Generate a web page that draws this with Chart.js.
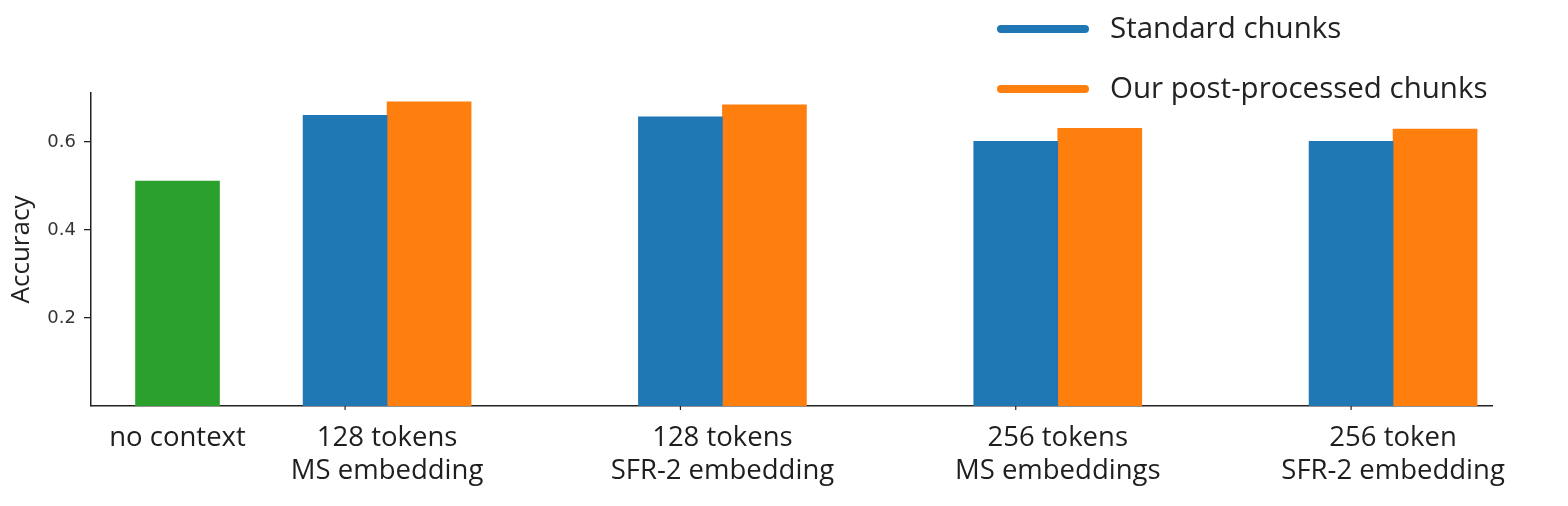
<!DOCTYPE html>
<html>
<head>
<meta charset="utf-8">
<script src="https://cdn.jsdelivr.net/npm/chart.js@4.4.0/dist/chart.umd.min.js"></script>
<style>
  html, body { margin: 0; padding: 0; background: #fff; }
  #wrap { width: 1568px; height: 506px; position: relative; }
</style>
</head>
<body>
<div id="wrap"><canvas id="accChart"></canvas></div>
<script>
// categories along the x axis (two-line labels) and where they sit on the axis
const categories = [
    ['no context'],
    ['128 tokens', 'MS embedding'],
    ['128 tokens', 'SFR-2 embedding'],
    ['256 tokens', 'MS embeddings'],
    ['256 token', 'SFR-2 embedding']
];
const catPositions = [0.375, 1, 2, 3, 4];

// accuracy per category, null where the series has no bar
const noContext      = [0.511, null, null, null, null];
const standardChunks = [null, 0.660, 0.657, 0.601, 0.601];
const postProcessed  = [null, 0.691, 0.684, 0.631, 0.629];

const yTicks = [0.2, 0.4, 0.6];

const toPoints = vals => catPositions.map((x, i) => ({ x: x, y: vals[i] }));

// legend drawn as thick lines stacked in the top right corner
const lineLegend = {
    id: 'lineLegend',
    afterDraw(chart, args, opts) {
        const ctx = chart.ctx;
        ctx.save();
        opts.items.forEach((idx, row) => {
            const ds = chart.data.datasets[idx];
            const y = opts.top + row * opts.rowGap;
            ctx.strokeStyle = ds.backgroundColor;
            ctx.lineWidth = 8;
            ctx.lineCap = 'round';
            ctx.beginPath();
            ctx.moveTo(opts.lineX0, y);
            ctx.lineTo(opts.lineX1, y);
            ctx.stroke();
            ctx.fillStyle = '#222';
            ctx.font = opts.font;
            ctx.textBaseline = 'middle';
            ctx.textAlign = 'left';
            ctx.fillText(ds.label, opts.textX, y + 1);
        });
        ctx.restore();
    }
};

// small tick marks under the blue bars, like the original axis
const barTicks = {
    id: 'barTicks',
    afterDatasetsDraw(chart) {
        const meta = chart.getDatasetMeta(1);
        const bottom = chart.chartArea.bottom;
        const ctx = chart.ctx;
        ctx.save();
        ctx.strokeStyle = '#222';
        ctx.lineWidth = 1.2;
        meta.data.forEach((el, i) => {
            if (standardChunks[i] === null) return;
            ctx.beginPath();
            ctx.moveTo(el.x, bottom);
            ctx.lineTo(el.x, bottom + 4);
            ctx.stroke();
        });
        ctx.restore();
    }
};

new Chart(document.getElementById('accChart'), {
    type: 'bar',
    data: {
        datasets: [
            { label: 'no context', data: toPoints(noContext), backgroundColor: '#2ca02c' },
            { label: 'Standard chunks', data: toPoints(standardChunks), backgroundColor: '#1f77b4' },
            { label: 'Our post-processed chunks', data: toPoints(postProcessed), backgroundColor: '#ff7f0e' }
        ]
    },
    plugins: [lineLegend, barTicks],
    options: {
        responsive: true,
        maintainAspectRatio: false,
        animation: false,
        datasets: {
            bar: { skipNull: true, barThickness: 84, borderWidth: 0 }
        },
        layout: { padding: { left: 0, right: 76, top: 93, bottom: 0 } },
        plugins: {
            legend: { display: false },
            tooltip: { enabled: false },
            lineLegend: {
                items: [1, 2],
                top: 29,
                rowGap: 60,
                lineX0: 1001,
                lineX1: 1085,
                textX: 1110,
                font: '29.5px "Open Sans"'
            }
        },
        scales: {
            x: {
                type: 'linear',
                min: 0.117,
                max: 4.295,
                offset: false,
                bounds: 'data',
                afterFit: s => { s.height = 100; },
                afterBuildTicks: s => { s.ticks = catPositions.map(v => ({ value: v })); },
                grid: { display: false, drawTicks: false },
                border: { display: true, color: '#222', width: 1.5 },
                ticks: {
                    autoSkip: false,
                    maxRotation: 0,
                    padding: 16,
                    color: '#1e1e1e',
                    font: { family: 'Open Sans', size: 27.5, lineHeight: 1.2 },
                    callback: (v, i) => categories[i]
                }
            },
            y: {
                min: 0,
                max: 0.711,
                afterFit: s => { s.width = 91; },
                afterBuildTicks: s => { s.ticks = yTicks.map(v => ({ value: v })); },
                grid: { display: true, drawOnChartArea: false, tickLength: 7, color: '#222', lineWidth: 1.3 },
                border: { display: true, color: '#222', width: 1.5 },
                ticks: {
                    padding: 8,
                    color: '#333',
                    font: { family: 'DejaVu Sans', size: 18 },
                    callback: v => v.toFixed(1)
                },
                title: {
                    display: true,
                    text: 'Accuracy',
                    color: '#222',
                    padding: { top: 6, bottom: 4 },
                    font: { family: 'Open Sans', size: 26 }
                }
            }
        }
    }
});
</script>
</body>
</html>
